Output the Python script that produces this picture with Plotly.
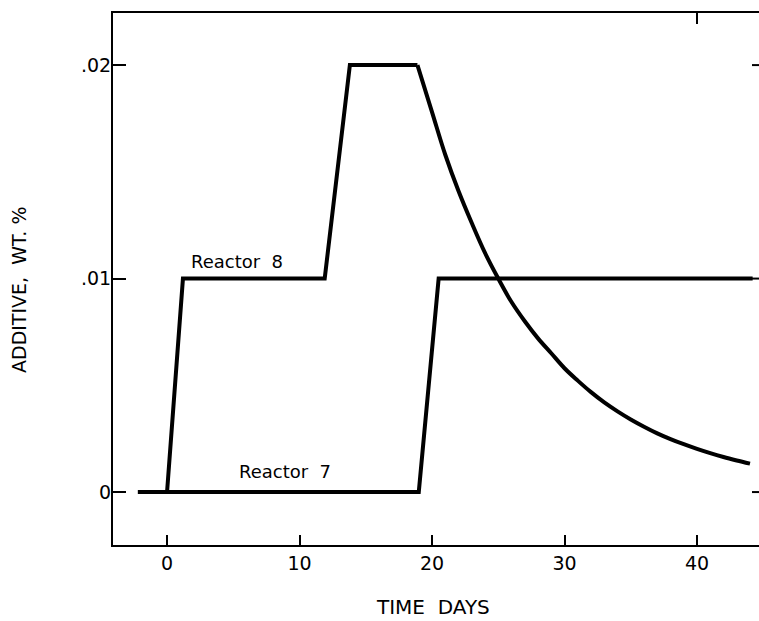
import plotly.graph_objects as go

# Time (days) and additive (wt. %)
# Reactor 8: step section and decay section
r8_step_days = [-2.2, 0.0, 1.2, 11.9, 13.8, 18.9]
r8_step_add = [0.0, 0.0, 0.01, 0.01, 0.02, 0.02]
r8_decay_days = [18.9, 20, 21, 22, 23, 24, 25, 26, 27, 28, 29, 30, 31, 32, 33, 34, 35,
                 36, 37, 38, 39, 40, 41, 42, 43, 44]
r8_decay_add = [0.02, 0.0178, 0.0158, 0.0141, 0.0126, 0.0112, 0.0100, 0.0089, 0.0080,
                0.0072, 0.0065, 0.0058, 0.00522, 0.00468, 0.0042, 0.00378, 0.0034, 0.00306,
                0.00275, 0.00248, 0.00224, 0.00202, 0.00182, 0.00164, 0.00148, 0.00133]
r7_days = [-2.2, 19.0, 20.5, 44.2]
r7_add = [0.0, 0.0, 0.01, 0.01]

x_ticks = [0, 10, 20, 30, 40]
y_ticks = [0, 0.01, 0.02]
y_tick_labels = ["0", ".01", ".02"]

W, H = 759, 621
L, R, T, B = 113, 0, 13, 76
x_range = [-4.08, 44.68]
y_range = [-0.00248, 0.02244]

fig = go.Figure()
fig.add_trace(go.Scatter(x=r8_step_days, y=r8_step_add, mode="lines",
                         line=dict(color="black", width=4), showlegend=False))
fig.add_trace(go.Scatter(x=r8_decay_days, y=r8_decay_add, mode="lines",
                         line=dict(color="black", width=4, shape="spline", smoothing=1.0),
                         showlegend=False))
fig.add_trace(go.Scatter(x=r7_days, y=r7_add, mode="lines",
                         line=dict(color="black", width=4), showlegend=False))

font = "DejaVu Sans"
fig.add_annotation(x=5.3, y=0.0108, text="Reactor  8", showarrow=False,
                   font=dict(family=font, size=18, color="black"))
fig.add_annotation(x=8.9, y=0.00095, text="Reactor  7", showarrow=False,
                   font=dict(family=font, size=18, color="black"))

# axis titles
fig.add_annotation(xref="paper", yref="paper", x=(433 - L) / (W - L - R), y=-(607 - (H - B)) / (H - T - B),
                   text="TIME  DAYS", showarrow=False, xanchor="center", yanchor="middle",
                   font=dict(family=font, size=20, color="black"))
fig.add_annotation(xref="paper", yref="paper", x=-(L - 19) / (W - L - R), y=(H - B - 290) / (H - T - B),
                   text="ADDITIVE,  WT. %", showarrow=False, textangle=-90,
                   xanchor="center", yanchor="middle",
                   font=dict(family=font, size=19, color="black"))

# right-hand tick dashes and single top tick
for v in y_ticks:
    fig.add_shape(type="line", xref="paper", yref="y", x0=(752 - L) / (W - L), x1=1.0,
                  y0=v, y1=v, line=dict(color="black", width=2))
fig.add_shape(type="line", xref="x", yref="paper", x0=40, x1=40, y0=1.0,
              y1=1 - 11 / (H - T - B), line=dict(color="black", width=2))

fig.update_xaxes(range=x_range, tickvals=x_ticks, ticks="inside", ticklen=10, tickwidth=2,
                 tickcolor="black", showline=True, linecolor="black", linewidth=2,
                 mirror=True, showgrid=False, zeroline=False,
                 tickfont=dict(family=font, size=19, color="black"))
fig.update_yaxes(range=y_range, tickvals=y_ticks, ticktext=y_tick_labels, ticks="inside",
                 ticklen=13, tickwidth=2, tickcolor="black", showline=True, linecolor="black",
                 linewidth=2, mirror=False, showgrid=False, zeroline=False,
                 ticklabelstandoff=-4,
                 tickfont=dict(family=font, size=19, color="black"))

fig.update_layout(width=W, height=H, margin=dict(l=L, r=R, t=T, b=B, pad=0),
                  plot_bgcolor="white", paper_bgcolor="white")

fig.write_html("out.html")
